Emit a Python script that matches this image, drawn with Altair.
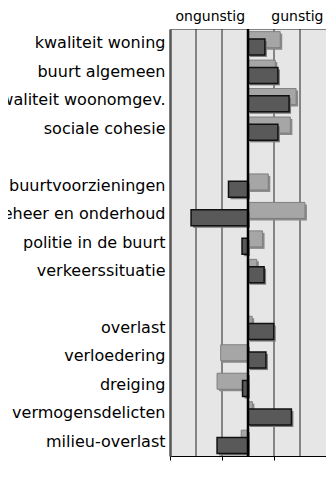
import altair as alt
import pandas as pd

categories = ["kwaliteit woning", "buurt algemeen", "kwaliteit woonomgev.", "sociale cohesie", " ",
              "buurtvoorzieningen", "beheer en onderhoud", "politie in de buurt", "verkeerssituatie", "  ",
              "overlast", "verloedering", "dreiging", "vermogensdelicten", "milieu-overlast"]
light = [1.24, 1.05, 1.85, 1.63, None, 0.78, 2.19, 0.56, 0.34, None, 0.16, -1.05, -1.19, 0.17, -0.26]
dark = [0.65, 1.15, 1.58, 1.15, None, -0.75, -2.19, -0.23, 0.62, None, 0.99, 0.69, -0.21, 1.67, -1.19]
headers = ["ongunstig", "gunstig"]
header_pos = [-1.45, 1.9]

df = pd.DataFrame({"cat": categories, "light": light, "dark": dark})
hdr = pd.DataFrame({"t": headers, "x": header_pos})

FONT = "DejaVu Sans"
FS = 16
xs = alt.Scale(domain=[-3, 3], nice=False, zero=False)
ys = alt.Scale(domain=categories, paddingInner=0, paddingOuter=0)

base = alt.Chart(df)
yenc = alt.Y("cat:N", sort=categories, scale=ys,
             axis=alt.Axis(title=None, labelFont=FONT, labelFontSize=FS, labelColor="black",
                           ticks=False, labelPadding=5, domainColor="#555555", domainWidth=2.5,
                           labelLimit=300))

gridlines = alt.Chart(pd.DataFrame({"g": [-2, -1, 1, 2]})).mark_rule(color="#222222", strokeWidth=1).encode(
    x=alt.X("g:Q", scale=xs, axis=alt.Axis(title=None, labels=False, tickSize=4, tickColor="black",
                                           domainColor="black", grid=False, values=[-3, -2, -1, 0, 1, 2, 3]))
)

BH = 16
lshadow = base.mark_bar(size=BH, color="#8a8a8a", xOffset=2, x2Offset=2, yOffset=-3.6 + 2).encode(
    x=alt.X("light:Q", scale=xs), y=yenc)
lbar = base.mark_bar(size=BH, color="#a6a6a6", stroke="#7f7f7f", strokeWidth=1, yOffset=-3.6).encode(
    x=alt.X("light:Q", scale=xs), y=yenc)
dshadow = base.mark_bar(size=BH, color="#7a7a7a", xOffset=2, x2Offset=2, yOffset=3.7 + 2).encode(
    x=alt.X("dark:Q", scale=xs), y=yenc)
dbar = base.mark_bar(size=BH, color="#595959", stroke="#111111", strokeWidth=1.5, yOffset=3.7).encode(
    x=alt.X("dark:Q", scale=xs), y=yenc)

zero = alt.Chart(pd.DataFrame({"z": [0]})).mark_rule(color="black", strokeWidth=2.5).encode(
    x=alt.X("z:Q", scale=xs))

htext = alt.Chart(hdr).mark_text(font=FONT, fontSize=14, color="black", baseline="alphabetic",
                                 align="center").encode(
    x=alt.X("x:Q", scale=xs), y=alt.value(-8), text="t:N")

chart = alt.layer(gridlines, lshadow, lbar, dshadow, dbar, zero, htext).properties(
    width=156, height=427,
    autosize=alt.AutoSizeParams(type="none"),
    padding={"left": 162, "top": 21, "right": 0, "bottom": 6},
    background="white",
).configure_view(fill="#e6e6e6", stroke="#808080", strokeWidth=1)

chart.save("out.html", embed_options={"renderer": "svg", "actions": False})
